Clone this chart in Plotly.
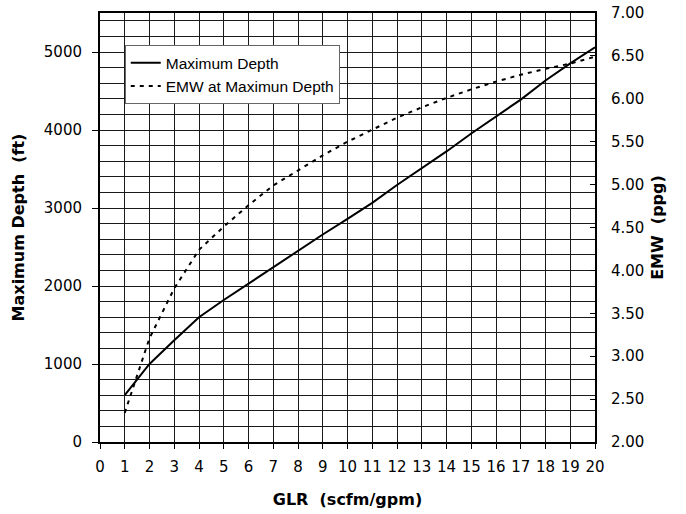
import plotly.graph_objects as go

glr = [1, 1.5, 2, 3, 4, 5, 6, 7, 8, 9, 10, 11, 12, 13, 14, 15, 16, 17, 18, 19, 20]
max_depth = [600, 800, 1000, 1305, 1600, 1820, 2030, 2245, 2455, 2660, 2860, 3065, 3295, 3510, 3725, 3955, 4170, 4390, 4635, 4855, 5060]
emw = [2.34, 2.78, 3.21, 3.79, 4.24, 4.51, 4.76, 4.99, 5.17, 5.34, 5.50, 5.64, 5.78, 5.90, 6.01, 6.11, 6.20, 6.28, 6.35, 6.41, 6.49]

x_ticks = list(range(0, 21))
depth_ticks = [0, 1000, 2000, 3000, 4000, 5000]
emw_ticks = [2.0, 2.5, 3.0, 3.5, 4.0, 4.5, 5.0, 5.5, 6.0, 6.5, 7.0]

tick_font = dict(family="DejaVu Sans, Arial, sans-serif", size=15, color="black")
title_font = dict(family="DejaVu Sans, Arial, sans-serif", size=16, color="black")
legend_font = dict(family="Liberation Sans, Arial, sans-serif", size=15.5, color="black")
grid = "#1a1a1a"

fig = go.Figure()
fig.add_trace(go.Scatter(x=glr, y=max_depth, mode="lines", name="Maximum Depth",
                         line=dict(color="black", width=2), yaxis="y"))
fig.add_trace(go.Scatter(x=glr, y=emw, mode="lines", name="EMW at Maximun Depth",
                         line=dict(color="black", width=2, dash="4px,5px"), yaxis="y2"))

fig.update_layout(
    width=686, height=514,
    margin=dict(l=100, r=91, t=13, b=72),
    paper_bgcolor="white", plot_bgcolor="white",
    font=dict(family="Liberation Sans, Arial, sans-serif", size=14, color="black"),
    showlegend=True,
    legend=dict(x=0.05, y=0.925, xanchor="left", yanchor="top",
                bgcolor="white", bordercolor="#666", borderwidth=1,
                font=legend_font, tracegroupgap=0),
    xaxis=dict(range=[0, 20], tickvals=x_ticks, ticktext=[str(v) for v in x_ticks],
               tickfont=tick_font, automargin=False,
               showgrid=True, gridcolor=grid, gridwidth=1,
               showline=True, linecolor="black", linewidth=2, mirror=True,
               ticks="outside", ticklen=5, tickcolor="black", ticklabelstandoff=5,
               title=dict(text="<b>GLR  (scfm/gpm)</b>", font=title_font, standoff=19),
               zeroline=False),
    yaxis=dict(range=[0, 5500], tickvals=depth_ticks,
               tickfont=tick_font, automargin=False,
               showgrid=True, gridcolor=grid, gridwidth=1,
               minor=dict(dtick=200, tick0=0, showgrid=True, gridcolor=grid, gridwidth=1),
               showline=True, linecolor="black", linewidth=2, mirror=True,
               ticks="outside", ticklen=6, tickcolor="black", ticklabelstandoff=7,
               title=dict(text="<b>Maximum Depth  (ft)</b>", font=title_font, standoff=15),
               zeroline=False),
    yaxis2=dict(range=[2, 7], tickvals=emw_ticks, ticktext=[f"{v:.2f}" for v in emw_ticks],
                tickfont=tick_font, automargin=False,
                overlaying="y", side="right", showgrid=False,
                showline=True, linecolor="black", linewidth=2,
                ticks="inside", ticklen=5, tickcolor="black", ticklabelstandoff=11,
                title=dict(text="<b>EMW  (ppg)</b>", font=title_font, standoff=8),
                zeroline=False),
)

fig.write_html("out.html")
